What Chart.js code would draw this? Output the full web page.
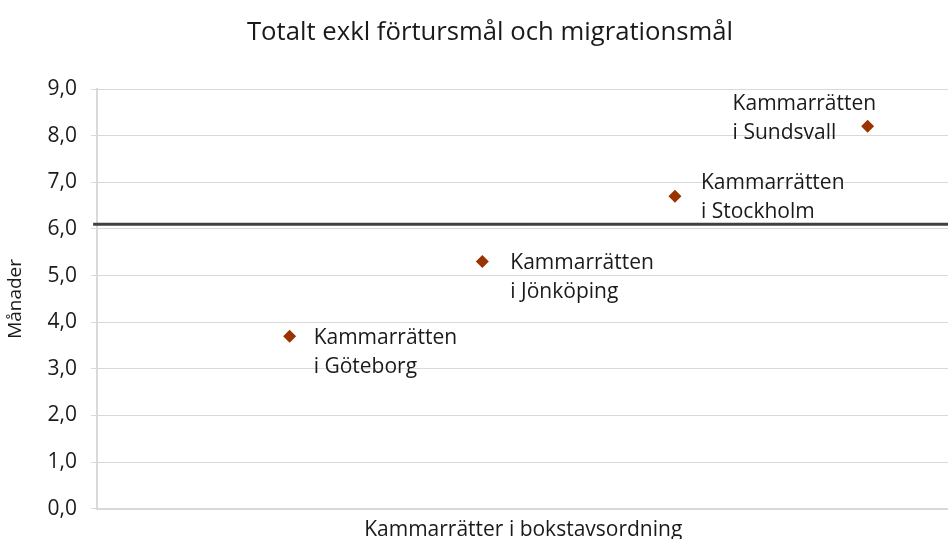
<!DOCTYPE html>
<html>
<head>
<meta charset="utf-8">
<script src="https://cdn.jsdelivr.net/npm/chart.js@4/dist/chart.umd.min.js"></script>
<style>
  html, body { margin: 0; padding: 0; background: #fff; overflow: hidden; }
  #wrap { width: 948px; height: 539px; overflow: hidden; }
</style>
</head>
<body>
<div id="wrap"><canvas id="chart" width="956" height="539"></canvas></div>
<script>
// Data
const domstolar = ['Kammarrätten i Göteborg', 'Kammarrätten i Jönköping', 'Kammarrätten i Stockholm', 'Kammarrätten i Sundsvall'];
const positioner = [1, 2, 3, 4];
const manader = [3.7, 5.3, 6.7, 8.2];
const genomsnitt = 6.1;
const yTicks = [0, 1, 2, 3, 4, 5, 6, 7, 8, 9];
const rubrik = 'Totalt exkl förtursmål och migrationsmål';

// Label placements (dx, dy relative to the point)
const etikettOffset = [
    { dx: 24, dy: 2 },
    { dx: 28, dy: 1 },
    { dx: 26, dy: -13 },
    { dx: -135, dy: -22 }
];

const FONT = '"Open Sans", "Noto Sans", sans-serif';
const xMax = 4.425;

const punkter = positioner.map((x, i) => ({ x: x, y: manader[i] }));

// Rubrik + etiketter ritas direkt på canvas
const etiketter = {
    id: 'etiketter',
    afterDatasetsDraw(chart) {
        const ctx = chart.ctx;
        const xs = chart.scales.x, ys = chart.scales.y;
        ctx.save();
        ctx.fillStyle = '#1a1a1a';
        ctx.textBaseline = 'middle';

        ctx.font = '25.7px ' + FONT;
        ctx.textAlign = 'center';
        ctx.fillText(rubrik, 490, 33);

        ctx.font = '21px ' + FONT;
        ctx.textAlign = 'left';
        punkter.forEach((p, i) => {
            const px = xs.getPixelForValue(p.x);
            const py = ys.getPixelForValue(p.y);
            const o = etikettOffset[i];
            const namn = domstolar[i];
            const delar = [namn.substring(0, namn.indexOf(' ')), namn.substring(namn.indexOf(' ') + 1)];
            ctx.fillText(delar[0], px + o.dx, py + o.dy);
            ctx.fillText(delar[1], px + o.dx, py + o.dy + 29);
        });
        ctx.restore();
    }
};

new Chart(document.getElementById('chart'), {
    type: 'scatter',
    data: {
        datasets: [
            {
                label: 'Genomsnitt',
                type: 'line',
                data: [{ x: -0.02, y: genomsnitt }, { x: xMax, y: genomsnitt }],
                borderColor: '#404040',
                borderWidth: 3,
                pointRadius: 0,
                clip: false,
                order: 2
            },
            {
                label: 'Månader',
                data: punkter,
                pointStyle: 'rectRot',
                pointRadius: 6.5,
                backgroundColor: '#993300',
                borderColor: '#993300',
                borderWidth: 0,
                order: 1
            }
        ]
    },
    options: {
        responsive: false,
        animation: false,
        layout: { padding: { left: 4, right: 0, top: 89, bottom: -5 } },
        plugins: {
            legend: { display: false },
            tooltip: { enabled: false },
            title: { display: false }
        },
        scales: {
            x: {
                type: 'linear',
                min: 0,
                max: xMax,
                grid: { display: false, drawTicks: false },
                border: { color: '#d9d9d9', width: 2 },
                ticks: { display: false },
                title: {
                    display: true,
                    text: 'Kammarrätter i bokstavsordning',
                    color: '#1a1a1a',
                    font: { family: FONT, size: 21 },
                    padding: { top: 9, bottom: 1 }
                }
            },
            y: {
                min: 0,
                max: 9,
                afterBuildTicks(axis) {
                    axis.ticks = yTicks.map(v => ({ value: v }));
                },
                afterFit(axis) {
                    axis.width = 93;
                },
                grid: { color: '#d9d9d9', lineWidth: 1, tickLength: 6 },
                border: { color: '#d9d9d9', width: 2 },
                ticks: {
                    color: '#1a1a1a',
                    font: { family: FONT, size: 21 },
                    padding: 14,
                    callback: v => v.toFixed(1).replace('.', ',')
                },
                title: {
                    display: true,
                    text: 'Månader',
                    color: '#1a1a1a',
                    font: { family: FONT, size: 19 },
                    padding: { top: 0, bottom: 0 }
                }
            }
        }
    },
    plugins: [etiketter]
});
</script>
</body>
</html>
